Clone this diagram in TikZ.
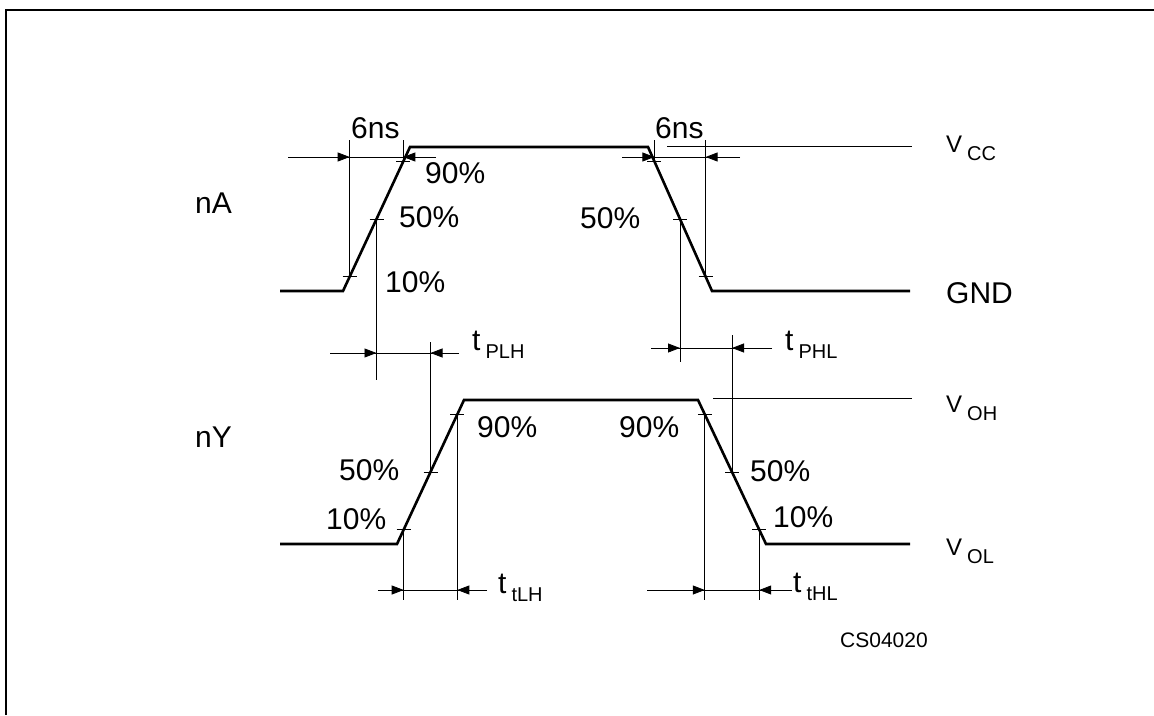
\documentclass[tikz,border=0pt]{standalone}
\usepackage{fontspec}
\setmainfont{Liberation Sans}
\usetikzlibrary{arrows.meta,calc}

% main letter, gap, lowered subscript
\newcommand{\sublbl}[3]{{\fontsize{#1}{#1}\selectfont #2}\hspace{5pt}\raisebox{-8pt}{\fontsize{20}{24}\selectfont #3}}

\begin{document}
\begin{tikzpicture}[x=1pt,y=-1pt,
  every node/.style={inner sep=0pt},
  frame/.style={black,line width=2.5pt},
  signal/.style={black,line width=2.6pt,line join=miter},
  guide/.style={black,line width=0.8pt},
  dimarrow/.style={guide,-{Triangle[length=12pt,width=9pt]}},
  lbl/.style={font=\fontsize{30}{34}\selectfont,anchor=base west},
  code/.style={font=\fontsize{21}{24}\selectfont,anchor=base west}]
\useasboundingbox (0,0) rectangle (1154,715);
\draw [frame] (6,715) |- (1154,10);

% levels used by the guides and arrows
\coordinate (gTop) at (0,140);
\coordinate (y6ns) at (0,157);
\coordinate (yPLH) at (0,353);
\coordinate (yPHL) at (0,348);
\coordinate (yTT) at (0,590);
\coordinate (gBot) at (0,600);

% input nA
\coordinate (A0) at (280,291);
\coordinate (A1) at (343,291);
\coordinate (A2) at (410,147);
\coordinate (A3) at (648,147);
\coordinate (A4) at (712,291);
\coordinate (A5) at (910,291);
\draw [signal] (A0) -- (A1) -- (A2) -- (A3) -- (A4) -- (A5);
\coordinate (Ar10) at ($(A1)!0.1!(A2)$);
\coordinate (Ar50) at ($(A1)!0.5!(A2)$);
\coordinate (Ar90) at ($(A1)!0.9!(A2)$);
\coordinate (Af90) at ($(A3)!0.1!(A4)$);
\coordinate (Af50) at ($(A3)!0.5!(A4)$);
\coordinate (Af10) at ($(A3)!0.9!(A4)$);

% output nY
\coordinate (B0) at (280,544);
\coordinate (B1) at (397,544);
\coordinate (B2) at (464,400);
\coordinate (B3) at (698,400);
\coordinate (B4) at (766,544);
\coordinate (B5) at (910,544);
\draw [signal] (B0) -- (B1) -- (B2) -- (B3) -- (B4) -- (B5);
\coordinate (Br10) at ($(B1)!0.1!(B2)$);
\coordinate (Br50) at ($(B1)!0.5!(B2)$);
\coordinate (Br90) at ($(B1)!0.9!(B2)$);
\coordinate (Bf90) at ($(B3)!0.1!(B4)$);
\coordinate (Bf50) at ($(B3)!0.5!(B4)$);
\coordinate (Bf10) at ($(B3)!0.9!(B4)$);

% ticks on the edges
\foreach \p in {Ar10,Ar50,Ar90,Af90,Af50,Af10,Br10,Br50,Br90,Bf90,Bf50,Bf10}
  \draw [guide] ($(\p)+(-7,0)$) -- ($(\p)+(7,0)$);

% supply reference lines
\coordinate (vccL) at (667,146);
\coordinate (vccR) at (912,146);
\coordinate (vohL) at (713,398);
\coordinate (vohR) at (912,398);
\draw [guide] (vccL) -- (vccR);
\draw [guide] (vohL) -- (vohR);

% vertical guides
\draw [guide] (Ar10 |- gTop) -- (Ar10);
\draw [guide] (Ar90 |- gTop) -- (Ar90);
\draw [guide] (Af90 |- gTop) -- (Af90);
\draw [guide] (Af10 |- gTop) -- (Af10);
\coordinate (ar50b) at (0,380);
\coordinate (af50b) at (0,362);
\coordinate (br50t) at (0,342);
\coordinate (bf50t) at (0,335);
\draw [guide] (Ar50) -- (Ar50 |- ar50b);
\draw [guide] (Af50) -- (Af50 |- af50b);
\draw [guide] (Br50 |- br50t) -- (Br50);
\draw [guide] (Bf50 |- bf50t) -- (Bf50);
\draw [guide] (Br10) -- (Br10 |- gBot);
\draw [guide] (Br90) -- (Br90 |- gBot);
\draw [guide] (Bf90) -- (Bf90 |- gBot);
\draw [guide] (Bf10) -- (Bf10 |- gBot);

% dimension arrows
\coordinate (s1a) at (288,157);
\coordinate (s1b) at (436,157);
\coordinate (s2a) at (622,157);
\coordinate (s2b) at (740,157);
\coordinate (plha) at (330,353);
\coordinate (plhb) at (459,353);
\coordinate (phla) at (651,348);
\coordinate (phlb) at (772,348);
\coordinate (tlha) at (378,590);
\coordinate (tlhb) at (487,590);
\coordinate (thla) at (647,590);
\coordinate (thlb) at (792,590);
\draw [guide] (s1a) -- (s1b);
\draw [guide] (s2a) -- (s2b);
\draw [guide] (plha) -- (plhb);
\draw [guide] (phla) -- (phlb);
\draw [guide] (tlha) -- (tlhb);
\draw [guide] (thla) -- (thlb);
\draw [dimarrow] (s1a) -- (Ar10 |- y6ns);
\draw [dimarrow] (s1b) -- (Ar90 |- y6ns);
\draw [dimarrow] (s2a) -- (Af90 |- y6ns);
\draw [dimarrow] (s2b) -- (Af10 |- y6ns);
\draw [dimarrow] (plha) -- (Ar50 |- yPLH);
\draw [dimarrow] (plhb) -- (Br50 |- yPLH);
\draw [dimarrow] (phla) -- (Af50 |- yPHL);
\draw [dimarrow] (phlb) -- (Bf50 |- yPHL);
\draw [dimarrow] (tlha) -- (Br10 |- yTT);
\draw [dimarrow] (tlhb) -- (Br90 |- yTT);
\draw [dimarrow] (thla) -- (Bf90 |- yTT);
\draw [dimarrow] (thlb) -- (Bf10 |- yTT);

% labels
\node [lbl] (ns1) at (351,138) {6ns};
\node [lbl] (ns2) at (655,138) {6ns};
\node [lbl] (nA) at (195,213) {nA};
\node [lbl] (nY) at (195,447) {nY};
\node [lbl] (a90) at (425,183) {90\%};
\node [lbl] (a50) at (399,227) {50\%};
\node [lbl] (a10) at (385,292) {10\%};
\node [lbl] (a50f) at (580,228) {50\%};
\node [lbl] (b90) at (477,437) {90\%};
\node [lbl] (b90f) at (619,437) {90\%};
\node [lbl] (b50) at (339,480) {50\%};
\node [lbl] (b50f) at (750,481) {50\%};
\node [lbl] (b10) at (326,529) {10\%};
\node [lbl] (b10f) at (773,527) {10\%};
\node [lbl] (vcc) at (946,152) {\sublbl{24}{V}{CC}};
\node [lbl] (gnd) at (946,303) {GND};
\node [lbl] (voh) at (946,412) {\sublbl{24}{V}{OH}};
\node [lbl] (vol) at (946,555) {\sublbl{24}{V}{OL}};
\node [lbl] (tplh) at (472,350) {\sublbl{30}{t}{PLH}};
\node [lbl] (tphl) at (785,350) {\sublbl{30}{t}{PHL}};
\node [lbl] (ttlh) at (498,593) {\sublbl{30}{t}{tLH}};
\node [lbl] (tthl) at (793,592) {\sublbl{30}{t}{tHL}};
\node [code] (csno) at (840,647) {CS04020};
\end{tikzpicture}
\end{document}
